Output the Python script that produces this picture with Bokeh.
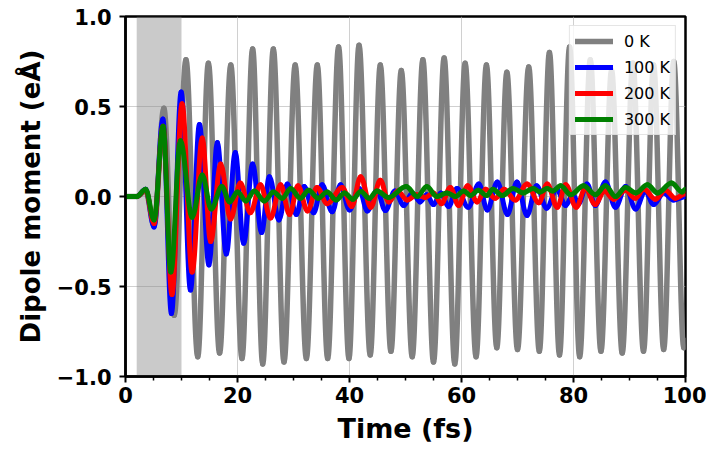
from bokeh.plotting import figure
from bokeh.models import FixedTicker, BoxAnnotation, Legend, LegendItem, Range1d, ColumnDataSource
from bokeh.embed import file_html
from bokeh.resources import INLINE

# ---------------- data (turning points of each trace) ----------------
pulse_start = 2.0
pulse_end = 10.0

t_0K = [0, 2.0, 3.6, 5.1, 6.85, 8.7, 10.8, 12.9, 14.8, 16.8, 18.8, 20.8, 22.7, 24.5,
        26.4, 28.3, 30.3, 32.3, 34.25, 36.1, 38.05, 39.9, 41.7, 43.7, 45.5, 47.4,
        49.25, 51.2, 53.1, 55.0, 56.9, 58.8, 60.65, 62.6, 64.45, 66.3, 68.1, 70.0,
        72.0, 73.9, 75.7, 77.5, 79.3, 81.1, 83.0, 84.9, 86.8, 88.7, 90.6, 92.5,
        94.3, 96.1, 97.9, 99.7, 100.0]
d_0K = [0, 0, 0.03, -0.16, 0.49, -0.66, 0.76, -0.89, 0.74, -0.87, 0.73, -0.90, 0.82, -0.93,
        0.82, -0.92, 0.73, -0.90, 0.73, -0.90, 0.83, -0.90, 0.84, -0.88, 0.73, -0.86,
        0.70, -0.89, 0.76, -0.92, 0.77, -0.93, 0.74, -0.89, 0.73, -0.84, 0.69, -0.85,
        0.72, -0.86, 0.80, -0.88, 0.83, -0.89, 0.76, -0.86, 0.70, -0.87, 0.74, -0.86,
        0.73, -0.85, 0.75, -0.84, -0.80]

t_100K = [0, 2.0, 3.6, 5.1, 6.67, 8.2, 9.94, 11.6, 13.2, 14.9, 16.4, 18.0, 19.6, 21.1,
          22.7, 24.3, 25.7, 27.4, 28.9, 30.5, 31.9, 33.6, 35.1, 36.9, 38.4, 40.0,
          41.7, 43.2, 44.9, 46.4, 48.1, 49.7, 51.2, 52.6, 53.8, 55.0, 56.3, 57.7,
          59.2, 61.2, 63.1, 64.6, 66.4, 68.2, 69.9, 71.7, 73.4, 75.2, 77.0, 78.6,
          79.9, 80.9, 82.4, 83.9, 85.7, 87.5, 89.3, 91.1, 92.8, 94.3, 96.1, 97.9, 100.0]
d_100K = [0, 0, 0.04, -0.17, 0.43, -0.65, 0.58, -0.52, 0.40, -0.38, 0.30, -0.32, 0.245, -0.26,
          0.18, -0.20, 0.11, -0.13, 0.07, -0.10, 0.055, -0.09, 0.065, -0.085, 0.065, -0.075,
          0.045, -0.08, 0.035, -0.078, 0.03, -0.05, 0.02, -0.03, 0.01, -0.045, 0.02, -0.055,
          0.045, -0.06, 0.07, -0.075, 0.08, -0.10, 0.08, -0.105, 0.06, -0.065, 0.04, -0.05,
          0.01, -0.04, 0.07, -0.05, 0.08, -0.06, 0.055, -0.07, 0.03, -0.045, 0.02, -0.02, 0.0]

t_200K = [0, 2.0, 3.6, 5.1, 6.7, 8.3, 10.1, 11.9, 13.7, 15.2, 17.0, 18.75, 20.5, 22.3,
          24.1, 25.9, 27.7, 29.3, 30.8, 32.5, 34.2, 36.0, 38.7, 40.4, 42.0, 43.8,
          45.5, 47.0, 48.6, 50.3, 52.0, 53.5, 55.0, 56.4, 58.0, 59.5, 61.1, 62.8,
          64.3, 66.0, 67.6, 69.6, 71.7, 73.8, 75.3, 77.1, 78.6, 80.5, 82.1, 83.9,
          85.5, 87.2, 89.3, 91.0, 92.6, 94.6, 96.4, 98.2, 100.0]
d_200K = [0, 0, 0.035, -0.15, 0.39, -0.545, 0.515, -0.42, 0.325, -0.25, 0.18, -0.125, 0.075, -0.09,
          0.065, -0.12, 0.065, -0.10, 0.06, -0.08, 0.05, -0.04, 0.05, -0.055, 0.11, -0.06,
          0.09, -0.03, 0.03, -0.02, 0.01, -0.005, 0.02, -0.04, 0.05, -0.05, 0.06, -0.03,
          0.04, -0.01, 0.04, -0.02, 0.07, -0.035, 0.07, -0.06, 0.065, -0.06, 0.045, -0.045,
          0.03, -0.015, 0.035, -0.01, 0.04, -0.015, 0.035, -0.01, 0.015]

t_300K = [0, 2.0, 3.6, 5.1, 6.7, 8.1, 9.8, 11.9, 13.7, 15.3, 17.2, 18.6, 20.0, 21.5,
          23.0, 24.8, 26.4, 28.0, 29.5, 31.2, 32.7, 34.4, 36.0, 37.6, 39.1, 40.6,
          42.0, 43.5, 44.9, 47.0, 50.1, 52.1, 53.8, 55.6, 57.4, 58.9, 60.4, 61.6,
          63.0, 64.5, 65.6, 67.3, 69.2, 71.0, 72.8, 74.0, 75.3, 76.3, 77.7, 79.5,
          81.8, 83.9, 85.7, 87.5, 89.3, 91.1, 93.2, 95.0, 97.5, 99.4, 100.0]
d_300K = [0, 0, 0.04, -0.13, 0.39, -0.42, 0.31, -0.115, 0.12, -0.07, 0.055, -0.03, 0.025, -0.025,
          0.03, -0.025, 0.025, -0.01, 0.045, -0.01, 0.035, -0.01, 0.025, -0.02, 0.02, -0.015,
          0.028, -0.01, 0.03, -0.005, 0.055, 0.0, 0.055, 0.0, 0.02, 0.0, 0.03, 0.005,
          0.035, 0.005, 0.04, 0.005, 0.045, 0.02, 0.045, 0.025, 0.045, 0.03, 0.06, 0.01,
          0.06, 0.01, 0.06, 0.0, 0.05, 0.02, 0.065, 0.02, 0.075, 0.025, 0.04]

series_labels = ["0 K", "100 K", "200 K", "300 K"]
series_colors = ["#808080", "#0000ff", "#ff0000", "#008000"]
series_widths = [5.5, 5, 5, 5]
x_ticks = [0, 20, 40, 60, 80, 100]
x_minor = [5, 10, 15, 25, 30, 35, 45, 50, 55, 65, 70, 75, 85, 90, 95]
y_ticks = [-1.0, -0.5, 0.0, 0.5, 1.0]
y_tick_labels = ["\u22121.0", "\u22120.5", "0.0", "0.5", "1.0"]


def smooth_segments(tt, dd, k=0.36):
    """Bezier segments between consecutive turning points, flat tangents at each one."""
    x0, y0, x1, y1, cx0, cy0, cx1, cy1 = [], [], [], [], [], [], [], []
    for i in range(len(tt) - 1):
        a, b = tt[i], tt[i + 1]
        h = (b - a) * k
        x0.append(a); y0.append(dd[i]); x1.append(b); y1.append(dd[i + 1])
        cx0.append(a + h); cy0.append(dd[i]); cx1.append(b - h); cy1.append(dd[i + 1])
    return ColumnDataSource(dict(x0=x0, y0=y0, x1=x1, y1=y1, cx0=cx0, cy0=cy0, cx1=cx1, cy1=cy1))


# ---------------- figure ----------------
p = figure(width=706, height=446, output_backend="svg", toolbar_location=None,
           x_range=Range1d(0, 100), y_range=Range1d(-1.0, 1.0),
           min_border_left=125, min_border_right=21, min_border_top=16, min_border_bottom=70)
p.background_fill_color = "white"
p.border_fill_color = "white"
p.outline_line_color = "black"
p.outline_line_width = 2.5

shade = BoxAnnotation(left=pulse_start, right=pulse_end, fill_color="#808080",
                      fill_alpha=0.42, line_color=None, level="underlay")
p.add_layout(shade)

FONT = "DejaVu Sans"
for ax in (p.xaxis[0], p.yaxis[0]):
    ax.axis_line_width = 2.5
    ax.axis_line_color = "black"
    ax.major_tick_line_width = 2
    ax.major_tick_line_color = "black"
    ax.major_tick_out = 6
    ax.major_tick_in = 0
    ax.minor_tick_line_width = 1.5
    ax.minor_tick_line_color = "black"
    ax.minor_tick_out = 4
    ax.minor_tick_in = 0
    ax.major_label_text_font = FONT
    ax.major_label_text_font_style = "bold"
    ax.major_label_text_font_size = "21px"
    ax.major_label_text_color = "black"
    ax.axis_label_text_font = FONT
    ax.axis_label_text_font_style = "bold"
    ax.axis_label_text_font_size = "27px"
    ax.axis_label_text_color = "black"

p.xaxis.ticker = FixedTicker(ticks=x_ticks, minor_ticks=x_minor)
p.yaxis.ticker = FixedTicker(ticks=y_ticks, minor_ticks=[])
p.yaxis.major_label_overrides = {v: s for v, s in zip(y_ticks, y_tick_labels)}
p.yaxis.minor_tick_line_color = None
p.xaxis.axis_label = "Time (fs)"
p.yaxis.axis_label = "Dipole moment (e\u00c5)"
p.xaxis.major_label_standoff = 4
p.xaxis.axis_label_standoff = 7
p.yaxis.major_label_standoff = 8
p.yaxis.axis_label_standoff = 8
p.yaxis.axis_label_text_font_size = "26px"

p.xgrid.grid_line_color = "#b0b0b0"
p.ygrid.grid_line_color = "#b0b0b0"
p.xgrid.grid_line_alpha = 0.6
p.ygrid.grid_line_alpha = 0.6
p.xgrid.grid_line_width = 1
p.ygrid.grid_line_width = 1

data = [(t_0K, d_0K), (t_100K, d_100K), (t_200K, d_200K), (t_300K, d_300K)]
items = []
for (tt, dd), lab, col, lw in zip(data, series_labels, series_colors, series_widths):
    src = smooth_segments(tt, dd)
    r = p.bezier(x0="x0", y0="y0", x1="x1", y1="y1", cx0="cx0", cy0="cy0",
                 cx1="cx1", cy1="cy1", source=src, line_color=col, line_width=lw,
                 line_cap="round")
    items.append(LegendItem(label=lab, renderers=[r]))

legend = Legend(items=items, location="top_right")
legend.label_text_font = FONT
legend.label_text_font_size = "16px"
legend.label_text_color = "black"
legend.glyph_width = 38
legend.glyph_height = 20
legend.label_height = 20
legend.label_standoff = 11
legend.padding = 5
legend.spacing = 6
legend.margin = 9
legend.border_line_color = "#cccccc"
legend.border_line_width = 1
legend.background_fill_color = "white"
legend.background_fill_alpha = 0.8
p.add_layout(legend, "center")

open("out.html", "w").write(file_html(p, INLINE))
